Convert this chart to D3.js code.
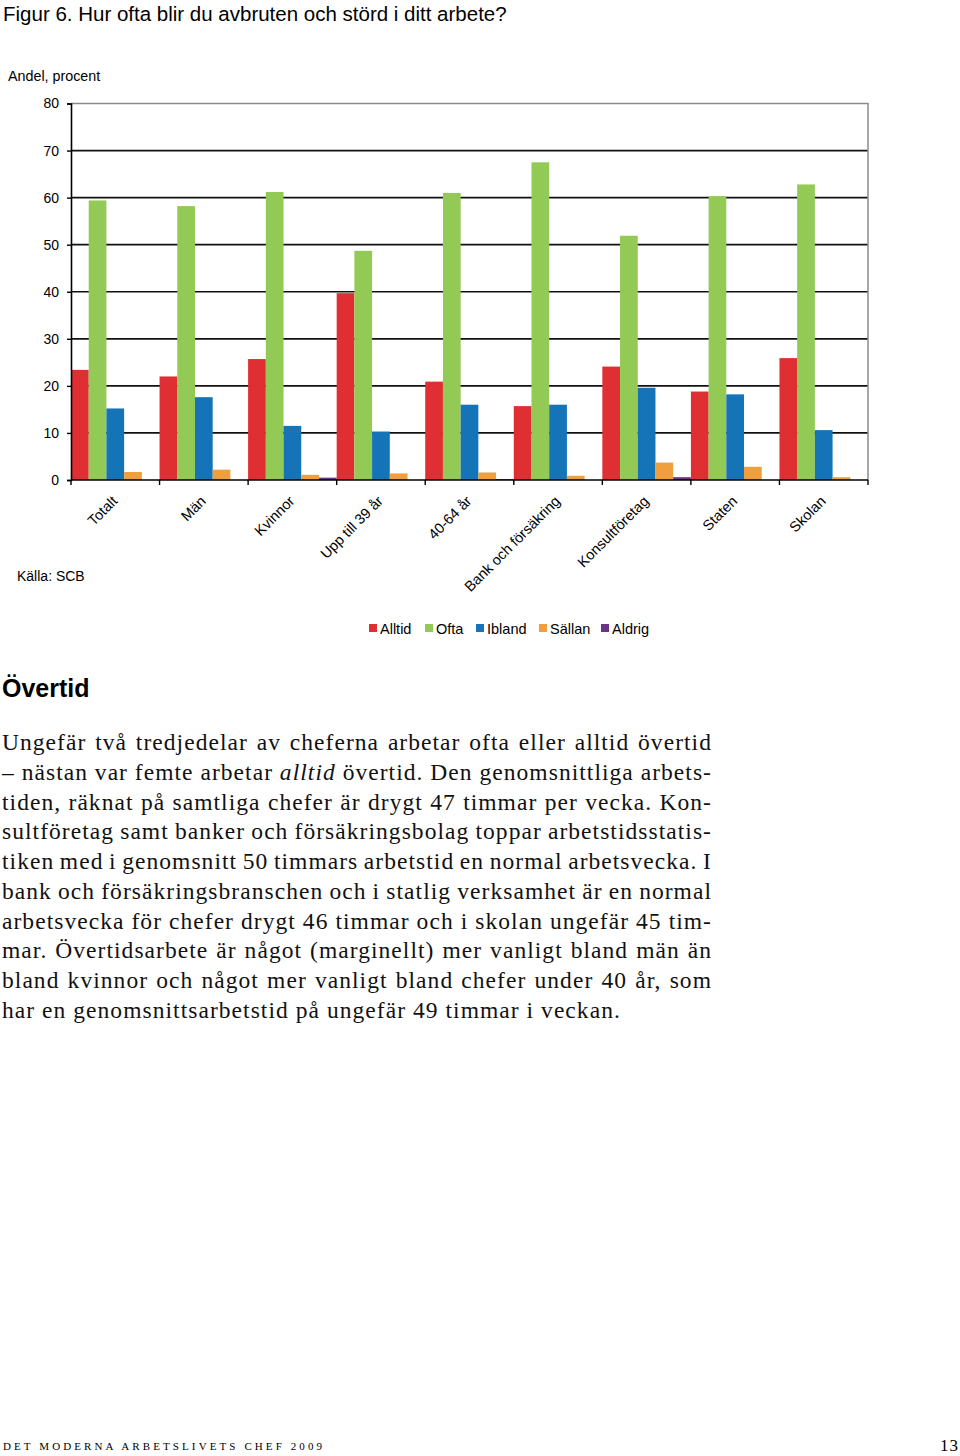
<!DOCTYPE html>
<html>
<head>
<meta charset="utf-8">
<script src="https://cdn.jsdelivr.net/npm/d3@7"></script>
<style>
  body { margin: 0; background: #fff; }
  svg { display: block; }
</style>
</head>
<body>
<svg id="page" width="960" height="1456"></svg>
<script>
// chart data
var categories = ["Totalt", "Män", "Kvinnor", "Upp till 39 år", "40-64 år",
                  "Bank och försäkring", "Konsultföretag", "Staten", "Skolan"];
var seriesNames = ["Alltid", "Ofta", "Ibland", "Sällan", "Aldrig"];
var alltid = [23.4, 22.0, 25.7, 39.7, 20.9, 15.7, 24.1, 18.8, 25.9];
var ofta   = [59.4, 58.2, 61.2, 48.7, 61.0, 67.5, 51.9, 60.3, 62.8];
var ibland = [15.2, 17.6, 11.5, 10.3, 16.0, 16.0, 19.6, 18.2, 10.6];
var sallan = [1.7, 2.2, 1.1, 1.4, 1.6, 0.9, 3.7, 2.8, 0.6];
var aldrig = [0, 0, 0.5, 0, 0.2, 0, 0.6, 0, 0];
var yTicks = [0, 10, 20, 30, 40, 50, 60, 70, 80];
var colors = ["#df2f33", "#93c955", "#1573b8", "#efa03d", "#6c3487"];

var allSeries = [alltid, ofta, ibland, sallan, aldrig];

var sans = "'Liberation Sans', Arial, Helvetica, sans-serif";
var serif = "'Liberation Serif', 'DejaVu Serif', serif";

var svg = d3.select("#page");

// title
svg.append("text")
    .attr("x", 3).attr("y", 21)
    .style("font-family", sans).style("font-size", "20.5px")
    .text("Figur 6. Hur ofta blir du avbruten och störd i ditt arbete?");

svg.append("text")
    .attr("x", 8).attr("y", 81)
    .style("font-family", sans).style("font-size", "14.3px")
    .text("Andel, procent");

var plotL = 71, plotR = 868, plotT = 103.5, plotB = 480;

var x = d3.scaleBand().domain(categories).range([plotL, plotR]).padding(0);
var xs = d3.scaleBand().domain(seriesNames).range([0, x.bandwidth()]).padding(0);
var y = d3.scaleLinear().domain([0, 80]).range([plotB, plotT]);

// grid lines
svg.append("g").selectAll("line")
    .data(yTicks.filter(function(d) { return d > 0 && d < 80; }))
    .enter().append("line")
    .attr("x1", plotL).attr("x2", plotR)
    .attr("y1", function(d) { return y(d); })
    .attr("y2", function(d) { return y(d); })
    .attr("stroke", "#111").attr("stroke-width", 1.7);

// top + right frame (grey)
svg.append("path")
    .attr("d", "M" + plotL + "," + y(80) + "H" + plotR + "V" + plotB)
    .attr("fill", "none").attr("stroke", "#8a8a8a").attr("stroke-width", 1.5);

// bars
var rows = categories.map(function(c, i) {
    return { cat: c, vals: seriesNames.map(function(s, j) { return { s: s, v: allSeries[j][i], j: j }; }) };
});

var groups = svg.append("g").selectAll("g")
    .data(rows).enter().append("g")
    .attr("transform", function(d) { return "translate(" + x(d.cat) + ",0)"; });

groups.selectAll("rect")
    .data(function(d) { return d.vals; })
    .enter().append("rect")
    .attr("x", function(d) { return xs(d.s); })
    .attr("width", xs.bandwidth())
    .attr("y", function(d) { return y(d.v); })
    .attr("height", function(d) { return plotB - y(d.v); })
    .attr("fill", function(d) { return colors[d.j]; });

// y axis
var yAxis = d3.axisLeft(y).tickValues(yTicks).tickSize(4).tickPadding(8);
var yg = svg.append("g").attr("transform", "translate(" + plotL + ",0)").call(yAxis);
yg.select(".domain").attr("stroke", "#000").attr("stroke-width", 1.6);
yg.selectAll(".tick line").attr("stroke", "#000").attr("stroke-width", 1.4);
yg.selectAll("text").style("font-family", sans).style("font-size", "14px").attr("fill", "#000");

// x axis baseline with ticks on band boundaries
svg.append("line")
    .attr("x1", plotL).attr("x2", plotR).attr("y1", plotB).attr("y2", plotB)
    .attr("stroke", "#000").attr("stroke-width", 1.6);
var bounds = categories.map(function(c) { return x(c); }).concat([plotR]);
svg.append("g").selectAll("line")
    .data(bounds).enter().append("line")
    .attr("x1", function(d) { return d; }).attr("x2", function(d) { return d; })
    .attr("y1", plotB).attr("y2", plotB + 5)
    .attr("stroke", "#000").attr("stroke-width", 1.4);

// category labels
svg.append("g").selectAll("text")
    .data(categories).enter().append("text")
    .attr("transform", function(d) {
        return "translate(" + (x(d) + x.bandwidth() / 2 + 3) + "," + 502 + ") rotate(-45)";
    })
    .attr("text-anchor", "end")
    .style("font-family", sans).style("font-size", "14.5px")
    .text(function(d) { return d; });

svg.append("text")
    .attr("x", 17).attr("y", 581)
    .style("font-family", sans).style("font-size", "14px")
    .text("Källa: SCB");

// legend
var legendX = [369, 425, 476, 539, 601];
var lg = svg.append("g").selectAll("g")
    .data(seriesNames).enter().append("g")
    .attr("transform", function(d, i) { return "translate(" + legendX[i] + ",624)"; });
lg.append("rect").attr("x", 0).attr("y", 0).attr("width", 8).attr("height", 8)
    .attr("fill", function(d, i) { return colors[i]; });
lg.append("text").attr("x", 11).attr("y", 9.5)
    .style("font-family", sans).style("font-size", "14.5px")
    .text(function(d) { return d; });

// heading
svg.append("text")
    .attr("x", 2).attr("y", 697)
    .style("font-family", sans).style("font-size", "25px").style("font-weight", "bold")
    .text("Övertid");

// body text, justified line by line
var bodyLines = [
    "Ungefär två tredjedelar av cheferna arbetar ofta eller alltid övertid",
    "– nästan var femte arbetar *alltid* övertid. Den genomsnittliga arbets-",
    "tiden, räknat på samtliga chefer är drygt 47 timmar per vecka. Kon-",
    "sultföretag samt banker och försäkringsbolag toppar arbetstidsstatis-",
    "tiken med i genomsnitt 50 timmars arbetstid en normal arbetsvecka. I",
    "bank och försäkringsbranschen och i statlig verksamhet är en normal",
    "arbetsvecka för chefer drygt 46 timmar och i skolan ungefär 45 tim-",
    "mar. Övertidsarbete är något (marginellt) mer vanligt bland män än",
    "bland kvinnor och något mer vanligt bland chefer under 40 år, som",
    "har en genomsnittsarbetstid på ungefär 49 timmar i veckan."
];
var textLeft = 2, textRight = 712, lineStart = 750, lineH = 29.75;

bodyLines.forEach(function(line, i) {
    var t = svg.append("text")
        .attr("x", textLeft).attr("y", lineStart + i * lineH)
        .style("font-family", serif).style("font-size", "23.5px")
        .style("letter-spacing", "1.05px")
        .attr("fill", "#111");
    var parts = line.split("*");
    parts.forEach(function(p, k) {
        if (!p) return;
        var ts = t.append("tspan").text(p);
        if (k % 2 == 1) ts.style("font-style", "italic");
    });
    if (i < bodyLines.length - 1) {
        var w = t.node().getComputedTextLength();
        var spaces = line.split(" ").length - 1;
        var extra = (textRight - textLeft - w) / spaces;
        t.attr("word-spacing", extra);
    }
});

// footer
svg.append("text")
    .attr("x", 3).attr("y", 1450)
    .style("font-family", serif).style("font-size", "11px")
    .style("letter-spacing", "3.1px")
    .text("DET MODERNA ARBETSLIVETS CHEF 2009");

svg.append("text")
    .attr("x", 959).attr("y", 1451)
    .attr("text-anchor", "end")
    .style("font-family", serif).style("font-size", "17px")
    .style("letter-spacing", "1px")
    .text("13");
</script>
</body>
</html>
